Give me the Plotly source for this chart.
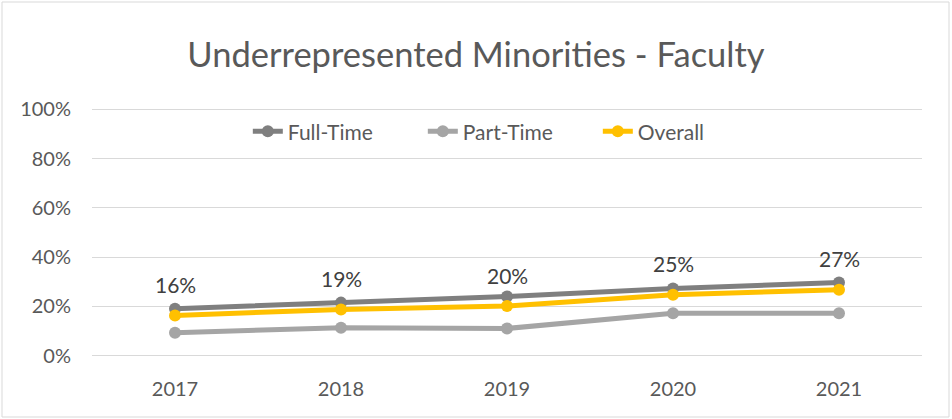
import plotly.graph_objects as go

years = ["2017", "2018", "2019", "2020", "2021"]
full_time = [0.190, 0.215, 0.240, 0.272, 0.297]
part_time = [0.093, 0.113, 0.110, 0.172, 0.172]
overall = [0.163, 0.187, 0.201, 0.247, 0.267]
overall_labels = ["16%", "19%", "20%", "25%", "27%"]

font_name = "Lato, Open Sans, sans-serif"

fig = go.Figure()
fig.add_scatter(x=years, y=full_time, name="Full-Time", mode="lines+markers",
                line=dict(color="#7F7F7F", width=5), marker=dict(size=12))
fig.add_scatter(x=years, y=part_time, name="Part-Time", mode="lines+markers",
                line=dict(color="#A5A5A5", width=5), marker=dict(size=12))
fig.add_scatter(x=years, y=overall, name="Overall", mode="lines+markers",
                line=dict(color="#FFC000", width=5), marker=dict(size=12))

# data labels above the overall line (category index as x)
for i, (v, t) in enumerate(zip(overall, overall_labels)):
    fig.add_annotation(x=i, y=v, text=t, showarrow=False, yshift=31,
                       font=dict(size=21, color="#404040", family=font_name))

fig.update_layout(
    width=952, height=419,
    paper_bgcolor="white", plot_bgcolor="white",
    margin=dict(l=92, r=30, t=108, b=62),
    font=dict(family=font_name, color="#595959"),
    title=dict(text="Underrepresented Minorities - Faculty", x=0.5, xanchor="center",
               y=0.869, yanchor="middle", font=dict(size=34.5, color="#595959")),
    legend=dict(orientation="h", x=0.504, xanchor="center", y=0.905, yanchor="middle",
                font=dict(size=21, color="#595959"), bgcolor="rgba(0,0,0,0)",
                entrywidth=130),
    showlegend=True,
)
fig.update_xaxes(type="category", range=[-0.5, 4.5], showgrid=False, showline=False,
                 ticks="", ticklabelstandoff=18, tickfont=dict(size=20, color="#595959"))
# small padding so the 0% and 100% gridlines are still drawn
fig.update_yaxes(range=[-0.006, 1.006], tickvals=[0, 0.2, 0.4, 0.6, 0.8, 1.0],
                 tickformat=".0%", showgrid=True,
                 gridcolor="#D9D9D9", gridwidth=1, zeroline=False, showline=False,
                 ticks="", ticklabelstandoff=20, tickfont=dict(size=20, color="#595959"))

# outer chart border
fig.add_shape(type="rect", xref="paper", yref="paper", x0=-90/830, x1=1 + 27/830,
              y0=-60/249, y1=1 + 106/249, line=dict(color="#D9D9D9", width=1))

fig.write_html("out.html", config={"displayModeBar": False},
               post_script="document.body.style.margin='0';")
